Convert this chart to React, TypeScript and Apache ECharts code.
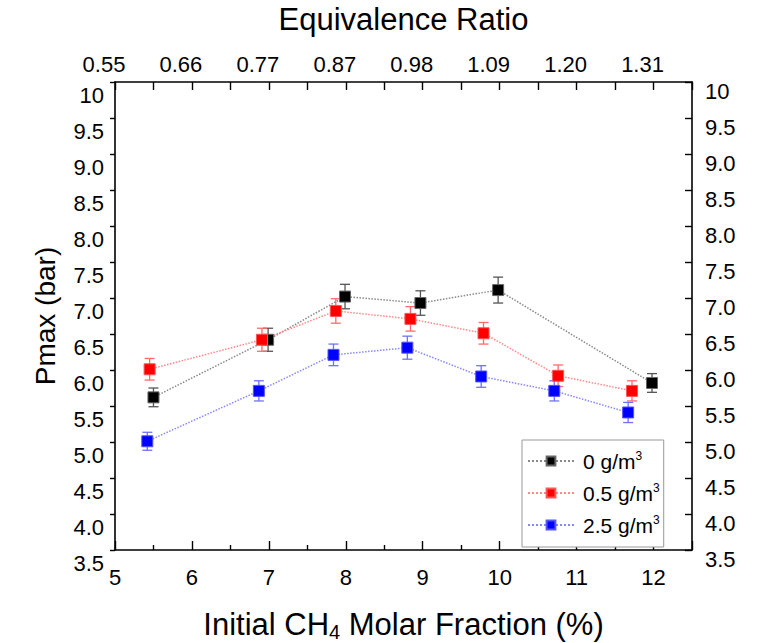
import React, { useEffect, useRef } from "react";
import * as echarts from "echarts";

const topLabels = ["0.55", "0.66", "0.77", "0.87", "0.98", "1.09", "1.20", "1.31"];
const seriesNames = ["0 g/m3", "0.5 g/m3", "2.5 g/m3"];

const blackX = [5.5, 6.99, 7.99, 8.97, 9.98, 11.98];
const blackY = [5.62, 6.42, 7.02, 6.93, 7.11, 5.82];
const blackErr = [0.13, 0.16, 0.17, 0.17, 0.18, 0.13];

const redX = [5.45, 6.91, 7.87, 8.84, 9.79, 10.76, 11.72];
const redY = [6.01, 6.42, 6.82, 6.71, 6.51, 5.92, 5.71];
const redErr = [0.15, 0.16, 0.17, 0.17, 0.15, 0.15, 0.14];

const blueX = [5.42, 6.87, 7.84, 8.8, 9.76, 10.71, 11.67];
const blueY = [5.01, 5.71, 6.21, 6.31, 5.91, 5.71, 5.41];
const blueErr = [0.125, 0.14, 0.15, 0.16, 0.15, 0.14, 0.14];

const FONT = "Liberation Sans, Arial, sans-serif";

function pts(xs: number[], ys: number[]) {
  return xs.map((x, i) => [x, ys[i]]);
}
function errPts(xs: number[], ys: number[], es: number[]) {
  return xs.map((x, i) => [x, ys[i], es[i]]);
}

function errSeries(data: number[][], color: string) {
  return {
    type: "custom",
    xAxisIndex: 0,
    yAxisIndex: 0,
    z: 1,
    silent: true,
    data,
    renderItem: (params: any, api: any) => {
      const x = api.value(0);
      const y = api.value(1);
      const e = api.value(2);
      const hi = api.coord([x, y + e]);
      const lo = api.coord([x, y - e]);
      const w = 5;
      const st = { stroke: color, lineWidth: 1.3 };
      return {
        type: "group",
        children: [
          { type: "line", shape: { x1: hi[0], y1: hi[1], x2: lo[0], y2: lo[1] }, style: st },
          { type: "line", shape: { x1: hi[0] - w, y1: hi[1], x2: hi[0] + w, y2: hi[1] }, style: st },
          { type: "line", shape: { x1: lo[0] - w, y1: lo[1], x2: lo[0] + w, y2: lo[1] }, style: st },
        ],
      };
    },
  };
}

function lineSeries(name: string, data: number[][], color: string, lineColor: string, border: string) {
  return {
    name,
    type: "line",
    xAxisIndex: 0,
    yAxisIndex: 0,
    z: 3,
    data,
    symbol: "rect",
    symbolSize: 11,
    itemStyle: { color, borderColor: border, borderWidth: 1 },
    lineStyle: { color: lineColor, width: 1.5, type: "dotted" },
  };
}

export default function App() {
  const ref = useRef<HTMLDivElement>(null);
  useEffect(() => {
    if (!ref.current) return;
    const chart = echarts.init(ref.current, null, { renderer: "svg" });
    const axisLine = { show: true, lineStyle: { color: "#000", width: 1.6 } };
    const lab = { color: "#000", fontSize: 22, fontFamily: FONT };
    const yFmt = (v: number) => (v === 10 ? "10" : v.toFixed(1));
    chart.setOption({
      animation: false,
      backgroundColor: "#fff",
      textStyle: { fontFamily: FONT },
      grid: { left: 115, right: 72, top: 82, bottom: 93, containLabel: false, outerBoundsMode: "none" },
      legend: {
        data: seriesNames,
        orient: "vertical",
        left: 522,
        top: 440,
        padding: [10, 4, 9, 5],
        itemGap: 8,
        itemWidth: 46,
        itemHeight: 11,
        borderColor: "#999",
        borderWidth: 1,
        backgroundColor: "#fff",
        formatter: (name: string) => "{n|" + name.slice(0, -1) + "}{s|3}",
        textStyle: {
          color: "#000",
          fontFamily: FONT,
          rich: {
            n: { fontSize: 21, fontFamily: FONT, color: "#000", lineHeight: 22, padding: [0, 0, 0, 4] },
            s: { fontSize: 12, fontFamily: FONT, color: "#000", verticalAlign: "top", lineHeight: 22, padding: [0, 0, 12, 0] },
          },
        },
      },
      xAxis: [
        {
          type: "value",
          position: "bottom",
          min: 5,
          max: 12.5,
          interval: 1,
          name: "Initial CH{sub|4} Molar Fraction (%)",
          nameLocation: "middle",
          nameGap: 56,
          nameMoveOverlap: false,
          nameTextStyle: {
            fontSize: 31,
            color: "#000",
            fontFamily: FONT,
            rich: { sub: { fontSize: 20, fontFamily: FONT, color: "#000", verticalAlign: "bottom", padding: [16, 0, 0, 0] } },
          },
          axisLine,
          axisTick: { show: true, inside: true, length: 9, lineStyle: { color: "#000", width: 1.4 } },
          minorTick: { show: true, splitNumber: 2, length: 5, lineStyle: { color: "#000", width: 1.4 } },
          axisLabel: { ...lab, margin: 16, showMaxLabel: false },
          splitLine: { show: false },
        },
        {
          type: "value",
          position: "top",
          min: 5,
          max: 12.5,
          interval: 0.5,
          name: "Equivalence Ratio",
          nameLocation: "middle",
          nameGap: 47,
          nameMoveOverlap: false,
          nameTextStyle: { fontSize: 31, color: "#000", fontFamily: FONT },
          axisLine,
          axisTick: { show: true, inside: true, length: 8, lineStyle: { color: "#000", width: 1.4 } },
          axisLabel: {
            ...lab,
            margin: 7,
            padding: [0, 22, 0, 0],
            formatter: (v: number) => (Number.isInteger(v) ? topLabels[v - 5] ?? "" : ""),
          },
          splitLine: { show: false },
        },
      ],
      yAxis: [
        {
          type: "value",
          position: "left",
          min: 3.5,
          max: 10,
          interval: 0.5,
          name: "Pmax (bar)",
          nameLocation: "middle",
          nameGap: 56,
          nameMoveOverlap: false,
          nameTextStyle: { fontSize: 28, color: "#000", fontFamily: FONT },
          axisLine,
          axisTick: { show: true, inside: false, length: 5, lineStyle: { color: "#000", width: 1.4 } },
          axisLabel: { ...lab, margin: 11, verticalAlign: "top", lineHeight: 26, formatter: yFmt },
          splitLine: { show: false },
        },
        {
          type: "value",
          position: "right",
          min: 3.5,
          max: 10,
          interval: 0.5,
          axisLine,
          axisTick: { show: true, inside: true, length: 7, lineStyle: { color: "#000", width: 1.4 } },
          axisLabel: { ...lab, margin: 13, verticalAlign: "top", lineHeight: 18, formatter: yFmt },
          splitLine: { show: false },
        },
      ],
      series: [
        errSeries(errPts(blackX, blackY, blackErr), "#555555"),
        errSeries(errPts(redX, redY, redErr), "#ff6a6a"),
        errSeries(errPts(blueX, blueY, blueErr), "#7070ff"),
        lineSeries(seriesNames[0], pts(blackX, blackY), "#000000", "#8a8a8a", "#666666"),
        lineSeries(seriesNames[1], pts(redX, redY), "#ff0000", "#ff8888", "#ff5555"),
        lineSeries(seriesNames[2], pts(blueX, blueY), "#0000ff", "#8888ff", "#5555ff"),
      ],
    });
    return () => chart.dispose();
  }, []);
  return (
    <div
      ref={ref}
      style={{ position: "fixed", left: 0, top: 0, width: 764, height: 643, background: "#fff" }}
    />
  );
}
